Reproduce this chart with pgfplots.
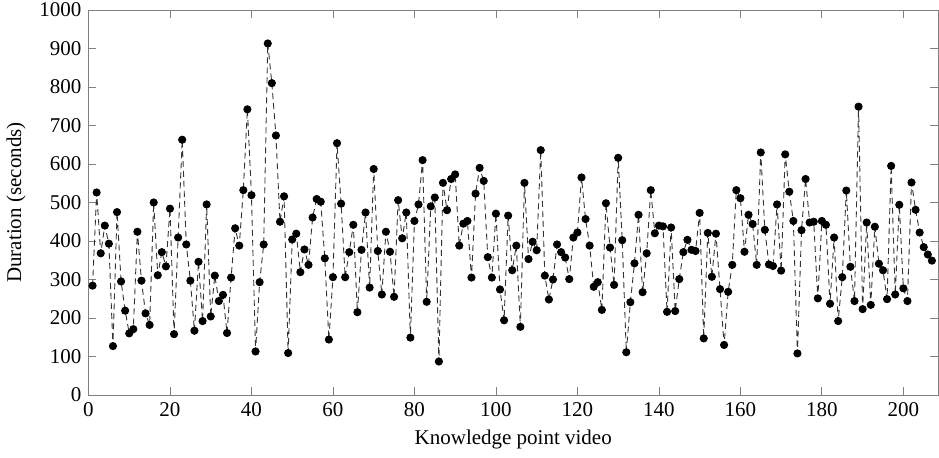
\documentclass[border=0pt]{standalone}
\usepackage{fontspec}
\setmainfont{Liberation Serif}
\usepackage{pgfplots}
\pgfplotsset{compat=1.18}
\usetikzlibrary{calc}
\definecolor{framegray}{HTML}{808080}
\definecolor{linegray}{HTML}{333333}

\pgfplotstableread{
n v
1 284
2 526
3 368
4 440
5 393
6 127
7 475
8 295
9 219
10 160
11 171
12 424
13 297
14 212
15 182
16 500
17 311
18 371
19 334
20 484
21 158
22 409
23 663
24 391
25 297
26 167
27 346
28 192
29 495
30 204
31 310
32 244
33 260
34 161
35 305
36 433
37 388
38 532
39 742
40 519
41 113
42 293
43 391
44 913
45 810
46 674
47 450
48 516
49 109
50 404
51 419
52 319
53 378
54 338
55 461
56 509
57 502
58 355
59 144
60 306
61 654
62 497
63 306
64 371
65 442
66 215
67 377
68 474
69 279
70 587
71 374
72 261
73 424
74 372
75 255
76 506
77 407
78 474
79 149
80 452
81 495
82 610
83 242
84 490
85 513
86 87
87 551
88 480
89 561
90 573
91 388
92 445
93 452
94 305
95 523
96 590
97 556
98 358
99 305
100 471
101 274
102 194
103 466
104 324
105 388
106 177
107 551
108 353
109 398
110 376
111 636
112 310
113 248
114 300
115 391
116 371
117 357
118 301
119 409
120 422
121 565
122 457
123 388
124 281
125 293
126 221
127 498
128 383
129 286
130 616
131 402
132 111
133 241
134 342
135 468
136 267
137 368
138 532
139 420
140 440
141 438
142 216
143 435
144 218
145 301
146 371
147 403
148 377
149 374
150 473
151 147
152 421
153 307
154 419
155 275
156 130
157 268
158 338
159 532
160 511
161 372
162 468
163 444
164 338
165 630
166 429
167 339
168 335
169 495
170 323
171 625
172 528
173 452
174 108
175 428
176 561
177 448
178 450
179 251
180 452
181 442
182 237
183 409
184 192
185 306
186 531
187 333
188 244
189 749
190 223
191 448
192 234
193 437
194 341
195 324
196 249
197 595
198 261
199 494
200 277
201 244
202 552
203 481
204 422
205 384
206 365
207 349
}\durations

\begin{document}
\begin{tikzpicture}
\begin{axis}[
  scale only axis,
  width=424.75pt,height=192.5pt,
  xmin=0,xmax=208.5,ymin=0,ymax=1000,
  xtick={0,20,...,200},
  ytick={0,100,...,1000},
  axis line style={framegray},
  every tick/.style={framegray},
  major tick length=4pt,
  tick label style={font=\fontsize{10.5}{12}\selectfont,black},
  label style={font=\fontsize{10.5}{12}\selectfont},
  /pgf/number format/assume math mode=true,
  /pgf/number format/1000 sep={},
  xlabel={Knowledge point video},
  ylabel={Duration (seconds)},
]
\addplot[linegray,densely dashed,line width=0.45pt,
  mark=*,mark size=1.8pt,mark options={solid,fill=black,draw=black}]
  table[x=n,y=v] {\durations};
\coordinate (sw) at (rel axis cs:0,0);
\coordinate (ne) at (rel axis cs:1,1);
\end{axis}
\pgfresetboundingbox
\path ($(sw)+(-44.25pt,-31.5pt)$) rectangle ($(ne)+(0.5pt,5pt)$);
\end{tikzpicture}
\end{document}
